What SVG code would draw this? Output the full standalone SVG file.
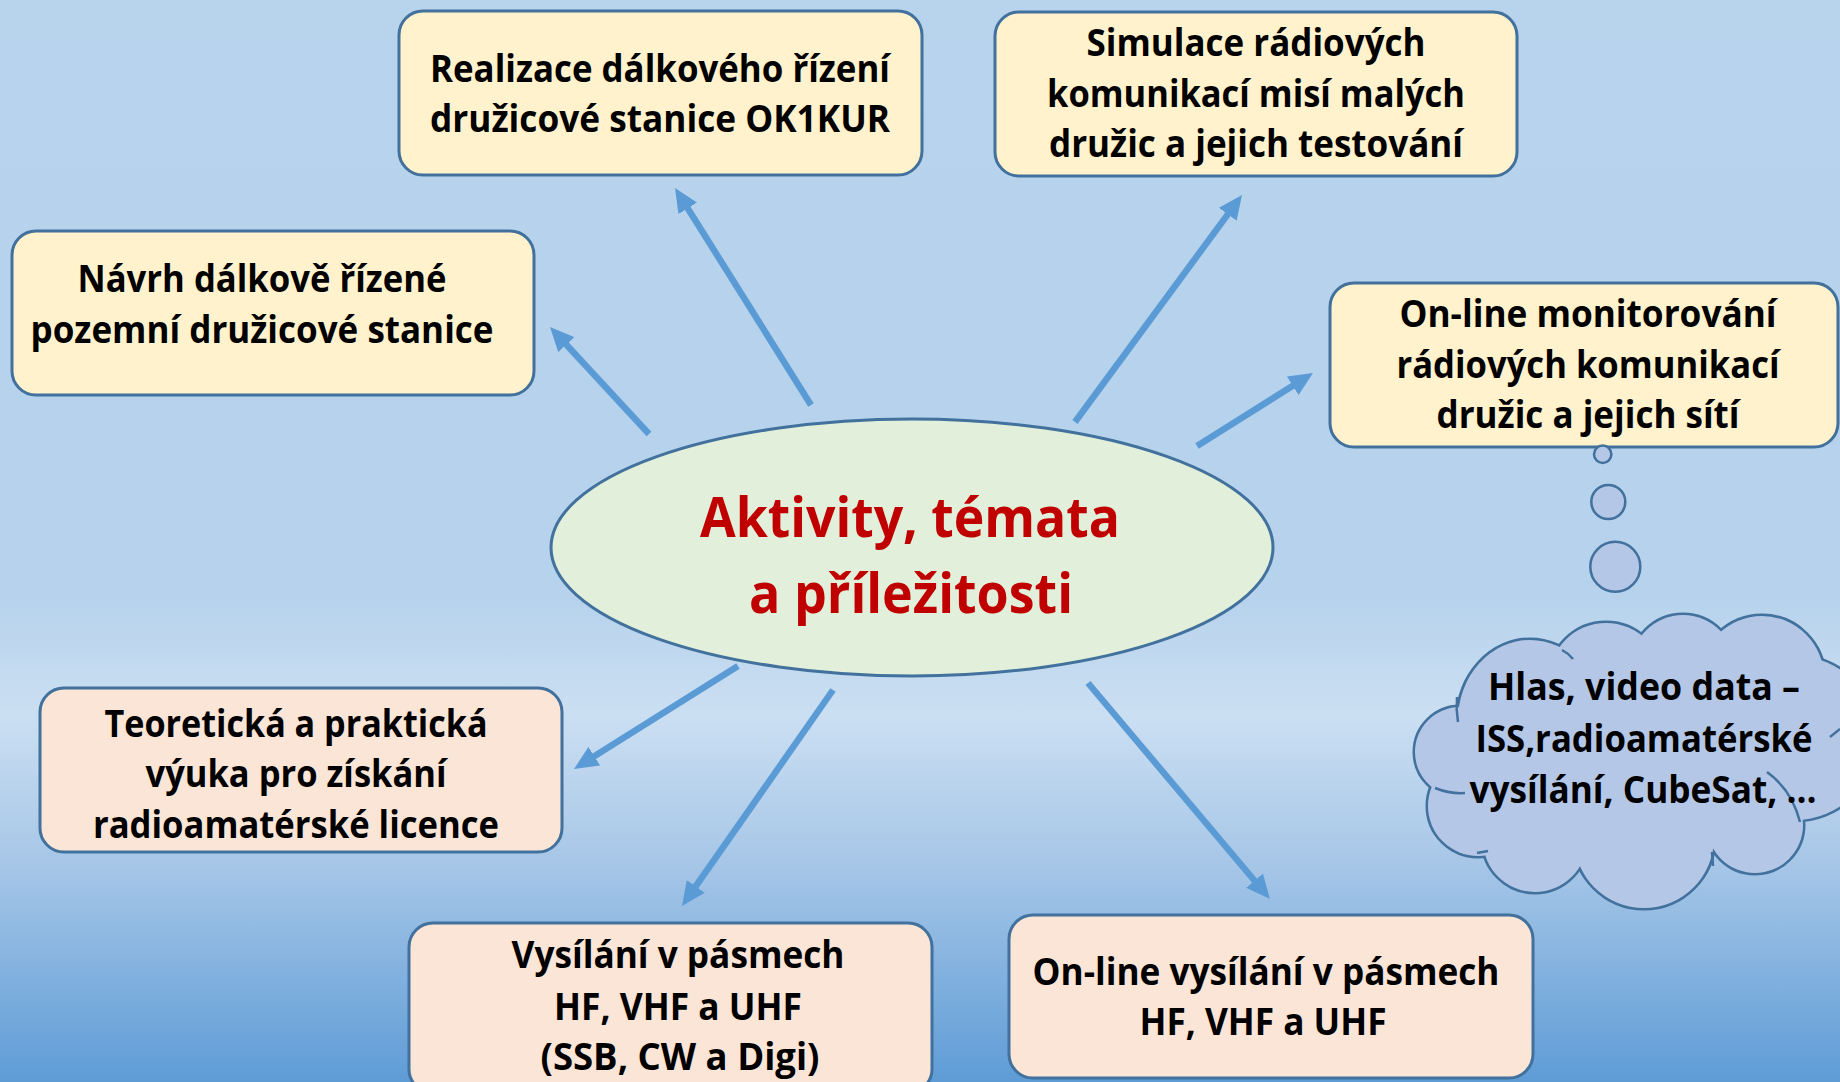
<svg xmlns="http://www.w3.org/2000/svg" width="1840" height="1082" viewBox="0 0 1840 1082">
<defs>
<linearGradient id="bg" x1="0" y1="0" x2="0" y2="1">
<stop offset="0" stop-color="#B8D3EC"/>
<stop offset="0.55" stop-color="#B6D2EC"/>
<stop offset="0.66" stop-color="#CBDFF2"/>
<stop offset="0.8" stop-color="#A6C6E7"/>
<stop offset="1" stop-color="#5E9CD6"/>
</linearGradient>
<marker id="ah" markerUnits="userSpaceOnUse" markerWidth="24" markerHeight="22" refX="9" refY="11" orient="auto">
<path d="M0,0 L24,11 L0,22 Z" fill="#5B9BD5"/>
</marker>
<style>
.t{font-family:"Open Sans","Noto Sans",sans-serif;font-weight:700;font-size:38px;text-anchor:middle;fill:#000}
.title{font-family:"Open Sans","Noto Sans",sans-serif;font-weight:700;font-size:56px;text-anchor:middle;fill:#C00000}
.by{fill:#FFF2CC;stroke:#41719C;stroke-width:3}
.bp{fill:#FBE5D6;stroke:#41719C;stroke-width:3}
.conn line{stroke:#5B9BD5;stroke-width:6.5;marker-end:url(#ah)}
.co{fill:#B4C7E7;stroke:#41719C;stroke-width:5}
.cf{fill:#B4C7E7;stroke:none}
.stub{fill:none;stroke:#41719C;stroke-width:2.5}
.bub{fill:#B4C7E7;stroke:#41719C;stroke-width:2.5}
</style>
</defs>
<rect x="0" y="0" width="1840" height="1082" fill="url(#bg)"/>

<g id="connectors" class="conn">
<line x1="811" y1="405" x2="683" y2="200.7"/>
<line x1="649" y1="434" x2="560.2" y2="338"/>
<line x1="1075" y1="422" x2="1233.1" y2="207.1"/>
<line x1="1197" y1="446" x2="1300.3" y2="381"/>
<line x1="738" y1="666" x2="586.7" y2="761"/>
<line x1="833" y1="690" x2="690.6" y2="893.7"/>
<line x1="1088" y1="683" x2="1260.3" y2="887.5"/>
</g>

<g id="center">
<ellipse cx="912" cy="547.5" rx="361" ry="128.5" fill="#E2EFDA" stroke="#41719C" stroke-width="3"/>
<text class="title" x="910" y="537" textLength="420" lengthAdjust="spacingAndGlyphs">Aktivity, témata</text>
<text class="title" x="911" y="613" textLength="324" lengthAdjust="spacingAndGlyphs">a příležitosti</text>
</g>

<g id="node-realizace">
<rect class="by" x="399" y="11" width="523" height="164" rx="24"/>
<text class="t" x="660" y="82" textLength="460" lengthAdjust="spacingAndGlyphs">Realizace dálkového řízení</text>
<text class="t" x="660" y="132" textLength="460" lengthAdjust="spacingAndGlyphs">družicové stanice OK1KUR</text>
</g>

<g id="node-simulace">
<rect class="by" x="995" y="12" width="522" height="164" rx="24"/>
<text class="t" x="1256" y="56" textLength="339" lengthAdjust="spacingAndGlyphs">Simulace rádiových</text>
<text class="t" x="1256" y="107" textLength="418" lengthAdjust="spacingAndGlyphs">komunikací misí malých</text>
<text class="t" x="1256" y="157" textLength="414" lengthAdjust="spacingAndGlyphs">družic a jejich testování</text>
</g>

<g id="node-navrh">
<rect class="by" x="12" y="231" width="522" height="164" rx="24"/>
<text class="t" x="262" y="292" textLength="369" lengthAdjust="spacingAndGlyphs">Návrh dálkově řízené</text>
<text class="t" x="262" y="343" textLength="463" lengthAdjust="spacingAndGlyphs">pozemní družicové stanice</text>
</g>

<g id="node-monitorovani">
<rect class="by" x="1330" y="283" width="508" height="164" rx="24"/>
<text class="t" x="1588" y="327" textLength="377" lengthAdjust="spacingAndGlyphs">On-line monitorování</text>
<text class="t" x="1588" y="378" textLength="383" lengthAdjust="spacingAndGlyphs">rádiových komunikací</text>
<text class="t" x="1588" y="428" textLength="303" lengthAdjust="spacingAndGlyphs">družic a jejich sítí</text>
</g>

<g id="node-vyuka">
<rect class="bp" x="40" y="688" width="522" height="164" rx="24"/>
<text class="t" x="296" y="737" textLength="383" lengthAdjust="spacingAndGlyphs">Teoretická a praktická</text>
<text class="t" x="296" y="787" textLength="301" lengthAdjust="spacingAndGlyphs">výuka pro získání</text>
<text class="t" x="296" y="838" textLength="406" lengthAdjust="spacingAndGlyphs">radioamatérské licence</text>
</g>

<g id="node-vysilani">
<rect class="bp" x="409" y="923" width="523" height="170" rx="24"/>
<text class="t" x="678" y="968" textLength="333" lengthAdjust="spacingAndGlyphs">Vysílání v pásmech</text>
<text class="t" x="678" y="1020" textLength="248" lengthAdjust="spacingAndGlyphs">HF, VHF a UHF</text>
<text class="t" x="680" y="1070" textLength="279" lengthAdjust="spacingAndGlyphs">(SSB, CW a Digi)</text>
</g>

<g id="node-online-vysilani">
<rect class="bp" x="1009" y="915" width="524" height="163" rx="24"/>
<text class="t" x="1266" y="985" textLength="467" lengthAdjust="spacingAndGlyphs">On-line vysílání v pásmech</text>
<text class="t" x="1263" y="1035" textLength="247" lengthAdjust="spacingAndGlyphs">HF, VHF a UHF</text>
</g>

<g id="node-cloud">
<circle class="bub" cx="1602.7" cy="454.3" r="8.7"/>
<circle class="bub" cx="1608.3" cy="502" r="17"/>
<circle class="bub" cx="1615.3" cy="566.7" r="25"/>
<g class="co">
<ellipse cx="1530" cy="720" rx="72" ry="80"/>
<circle cx="1606" cy="680" r="57"/>
<circle cx="1683" cy="667" r="52"/>
<circle cx="1762" cy="678" r="62"/>
<circle cx="1795" cy="738" r="82"/>
<circle cx="1755" cy="825" r="48"/>
<circle cx="1644" cy="838" r="70"/>
<circle cx="1535" cy="840" r="52"/>
<circle cx="1478" cy="806" r="50"/>
<circle cx="1460" cy="752" r="45"/>
</g>
<g class="cf">
<ellipse cx="1530" cy="720" rx="72" ry="80"/>
<circle cx="1606" cy="680" r="57"/>
<circle cx="1683" cy="667" r="52"/>
<circle cx="1762" cy="678" r="62"/>
<circle cx="1795" cy="738" r="82"/>
<circle cx="1755" cy="825" r="48"/>
<circle cx="1644" cy="838" r="70"/>
<circle cx="1535" cy="840" r="52"/>
<circle cx="1478" cy="806" r="50"/>
<circle cx="1460" cy="752" r="45"/>
<ellipse cx="1640" cy="760" rx="150" ry="100"/>
</g>
<g class="stub">
<path d="M1562,650 Q1568,653 1573,659"/>
<path d="M1435,788 Q1450,794 1465,793"/>
<path d="M1477,853 L1488,851"/>
<path d="M1767,772 Q1792,790 1800,822"/>
<path d="M1830,737 L1840,729"/>
<path d="M1712,852 L1713,866"/>
<path d="M1457,697 Q1456,710 1458,722"/>
</g>
<text class="t" x="1644" y="700" textLength="312" lengthAdjust="spacingAndGlyphs">Hlas, video data –</text>
<text class="t" x="1644" y="752" textLength="337" lengthAdjust="spacingAndGlyphs">ISS,radioamatérské</text>
<text class="t" x="1643" y="803" textLength="347" lengthAdjust="spacingAndGlyphs">vysílání, CubeSat, …</text>
</g>
</svg>
